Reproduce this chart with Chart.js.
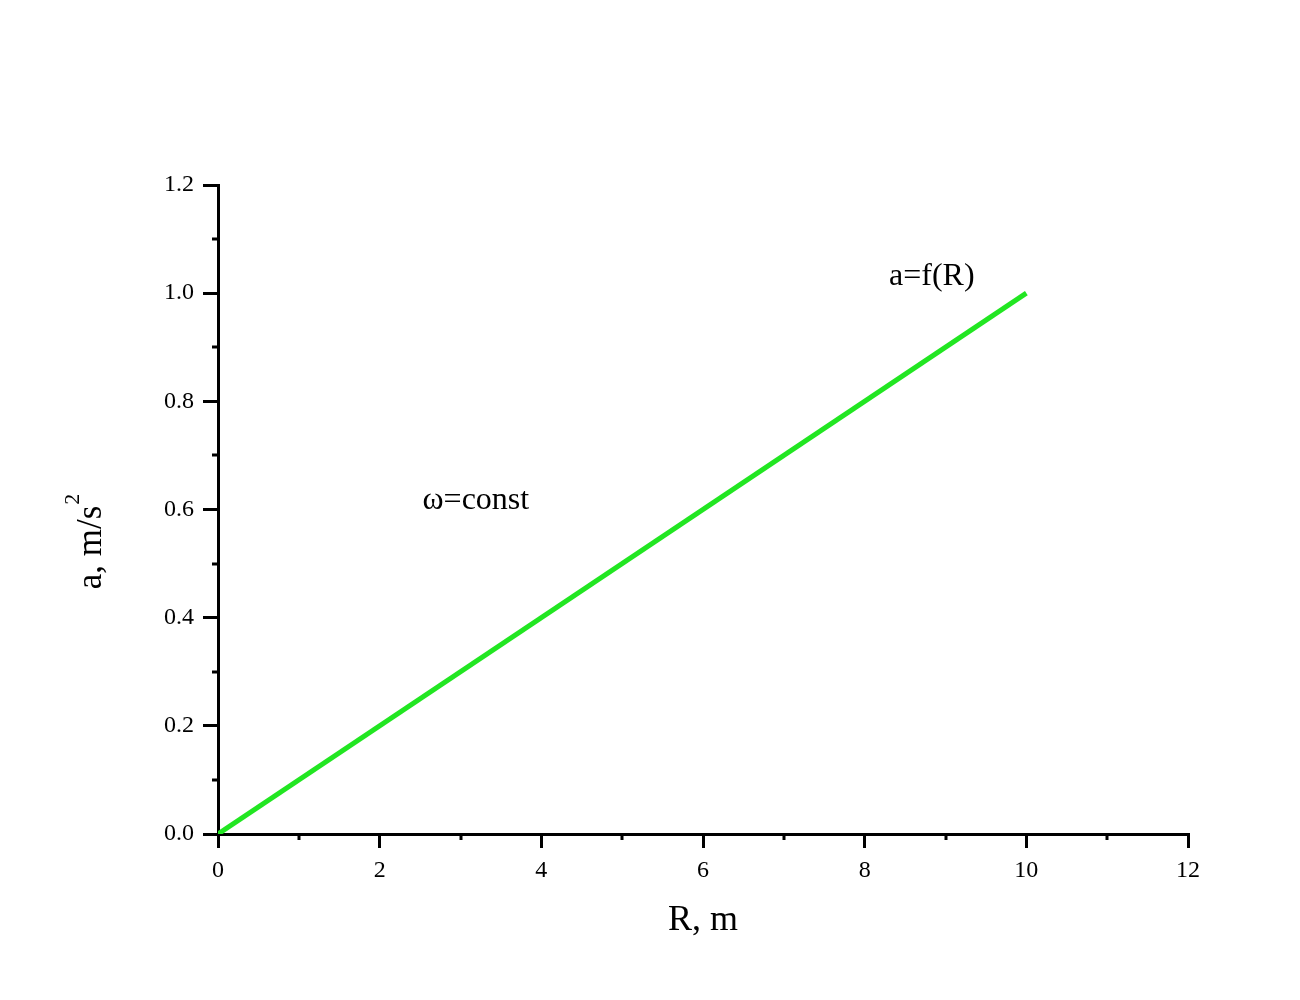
<!DOCTYPE html>
<html lang="en">
<head>
    <meta charset="UTF-8">
    <title>a = f(R)</title>
    <script src="https://cdn.jsdelivr.net/npm/chart.js@4.4.0/dist/chart.umd.min.js"></script>
    <style>
        body { margin: 0; background: #fff; }
    </style>
</head>
<body>
    <canvas id="chart" width="1300" height="1000"></canvas>

    <script>
        // a = omega^2 * R, straight line
        const radius = [0, 10];
        const accel = [0, 1.0];

        const xMinorTicks = [1, 3, 5, 7, 9, 11];
        const yMinorTicks = [0.1, 0.3, 0.5, 0.7, 0.9, 1.1];

        const notes = [
            { text: 'ω=const', x: 3.19, y: 0.617 },
            { text: 'a=f(R)', x: 8.83, y: 1.03 }
        ];

        const serif = "'Liberation Serif', 'Times New Roman', serif";

        // minor ticks, annotations and the y title with its superscript
        const extras = {
            id: 'extras',
            afterDraw(chart) {
                const ctx = chart.ctx;
                const xs = chart.scales.x;
                const ys = chart.scales.y;
                const area = chart.chartArea;
                ctx.save();
                ctx.strokeStyle = '#000';
                ctx.lineWidth = 3;
                ctx.beginPath();
                xMinorTicks.forEach(v => {
                    const px = Math.round(xs.getPixelForValue(v));
                    ctx.moveTo(px, area.bottom);
                    ctx.lineTo(px, area.bottom + 6);
                });
                yMinorTicks.forEach(v => {
                    const py = Math.round(ys.getPixelForValue(v));
                    ctx.moveTo(area.left, py);
                    ctx.lineTo(area.left - 6, py);
                });
                ctx.stroke();

                ctx.fillStyle = '#000';
                ctx.font = '32px ' + serif;
                ctx.textAlign = 'center';
                ctx.textBaseline = 'middle';
                notes.forEach(n => {
                    ctx.fillText(n.text, xs.getPixelForValue(n.x), ys.getPixelForValue(n.y));
                });

                // y axis title: "a, m/s" + superscript 2
                ctx.translate(area.left - 126, (area.top + area.bottom) / 2 + 38);
                ctx.rotate(-Math.PI / 2);
                ctx.font = '35px ' + serif;
                const w = ctx.measureText('a, m/s').width;
                ctx.textAlign = 'left';
                ctx.fillText('a, m/s', -w / 2, 0);
                ctx.font = '22px ' + serif;
                ctx.fillText('2', w / 2 + 1, -19);
                ctx.restore();
            }
        };

        const ctx = document.getElementById('chart').getContext('2d');

        new Chart(ctx, {
            type: 'line',
            data: {
                datasets: [{
                    data: radius.map((r, i) => ({ x: r, y: accel[i] })),
                    borderColor: 'rgb(34, 230, 34)',
                    borderWidth: 5,
                    pointRadius: 0,
                    tension: 0,
                    fill: false
                }]
            },
            options: {
                responsive: false,
                animation: false,
                layout: { padding: { top: 185, right: 112, left: 0, bottom: 0 } },
                plugins: {
                    legend: { display: false },
                    tooltip: { enabled: false }
                },
                scales: {
                    x: {
                        type: 'linear',
                        min: 0,
                        max: 12,
                        ticks: {
                            stepSize: 2,
                            color: '#000',
                            padding: 8,
                            font: { family: serif, size: 24 }
                        },
                        grid: {
                            drawOnChartArea: false,
                            tickLength: 14,
                            lineWidth: 3,
                            color: '#000'
                        },
                        border: { display: true, color: '#000', width: 3 },
                        title: {
                            display: true,
                            text: 'R, m',
                            color: '#000',
                            font: { family: serif, size: 36 },
                            padding: { bottom: 58 }
                        },
                        afterFit(scale) { scale.height = 166; }
                    },
                    y: {
                        min: 0,
                        max: 1.2,
                        ticks: {
                            stepSize: 0.2,
                            color: '#000',
                            padding: 9,
                            font: { family: serif, size: 24 },
                            callback: v => v.toFixed(1)
                        },
                        grid: {
                            drawOnChartArea: false,
                            tickLength: 15,
                            lineWidth: 3,
                            color: '#000'
                        },
                        border: { display: true, color: '#000', width: 3 },
                        afterFit(scale) { scale.width = 218; }
                    }
                }
            },
            plugins: [extras]
        });
    </script>
</body>
</html>
